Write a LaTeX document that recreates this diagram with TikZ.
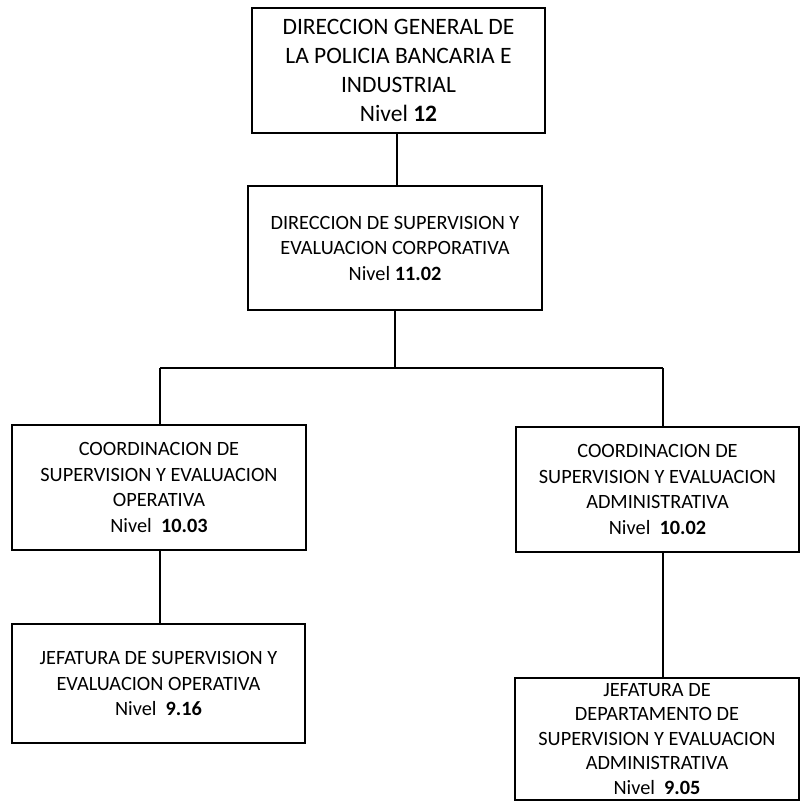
\documentclass[tikz,border=0pt]{standalone}
\usepackage{fontspec}
\setmainfont{Carlito}
\begin{document}
\begin{tikzpicture}[x=1pt,y=-1pt,
  box/.style={draw,line width=1.8pt,rectangle,align=center,inner sep=0pt,
    font=\fontsize{20.3}{25.5}\selectfont},
  link/.style={line width=1.1pt}]
  \useasboundingbox (0,0) rectangle (801,802);
  % boxes
  \node[box,minimum width=293pt,minimum height=125pt,font=\fontsize{23.5}{29}\selectfont]
    (dirgen) at (398.5,70.5) {DIRECCION GENERAL DE\\LA POLICIA BANCARIA E\\INDUSTRIAL\\Nivel \textbf{12}};
  \node[box,minimum width=294pt,minimum height=124pt]
    (dirsup) at (395,248) {DIRECCION DE SUPERVISION Y\\EVALUACION CORPORATIVA\\Nivel \textbf{11.02}};
  \node[box,minimum width=294pt,minimum height=125pt]
    (coordop) at (159,487.5) {COORDINACION DE\\SUPERVISION Y EVALUACION\\OPERATIVA\\Nivel \ \textbf{10.03}};
  \node[box,minimum width=283pt,minimum height=125pt]
    (coordadm) at (657.5,489.5) {COORDINACION DE\\SUPERVISION Y EVALUACION\\ADMINISTRATIVA\\Nivel \ \textbf{10.02}};
  \node[box,minimum width=293pt,minimum height=119pt]
    (jefop) at (158.5,683.5) {JEFATURA DE SUPERVISION Y\\EVALUACION OPERATIVA\\Nivel \ \textbf{9.16}};
  \node[box,minimum width=284pt,minimum height=122pt,font=\fontsize{20.3}{24.5}\selectfont]
    (jefadm) at (657,739) {JEFATURA DE\\DEPARTAMENTO DE\\SUPERVISION Y EVALUACION\\ADMINISTRATIVA\\Nivel \ \textbf{9.05}};
  % connectors
  \coordinate (busl) at (160,368);
  \coordinate (busr) at (663,368);
  \draw[link] (dirgen.south -| 397,0) -- (dirsup.north -| 397,0);
  \draw[link] (dirsup.south) -- (dirsup.south |- busl);
  \draw[link] (busl) -- (busr);
  \draw[link] (busl) -- (busl |- coordop.north);
  \draw[link] (busr) -- (busr |- coordadm.north);
  \draw[link] (coordop.south -| busl) -- (jefop.north -| busl);
  \draw[link] (coordadm.south -| busr) -- (jefadm.north -| busr);
\end{tikzpicture}
\end{document}
